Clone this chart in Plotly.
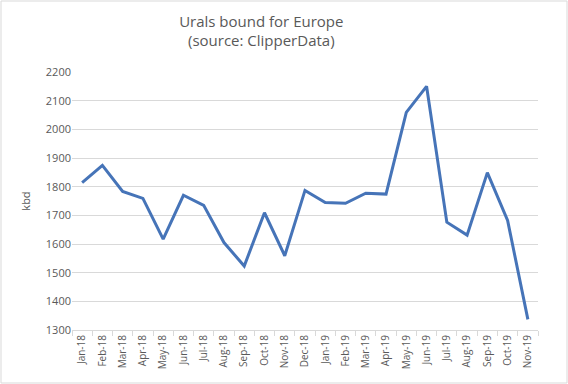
import plotly.graph_objects as go

months = ["Jan-18", "Feb-18", "Mar-18", "Apr-18", "May-18", "Jun-18", "Jul-18", "Aug-18",
          "Sep-18", "Oct-18", "Nov-18", "Dec-18", "Jan-19", "Feb-19", "Mar-19", "Apr-19",
          "May-19", "Jun-19", "Jul-19", "Aug-19", "Sep-19", "Oct-19", "Nov-19"]
kbd = [1814, 1874, 1783, 1759, 1617, 1770, 1735, 1605, 1523, 1709, 1559, 1787,
       1745, 1742, 1777, 1774, 2059, 2150, 1676, 1631, 1849, 1682, 1337]

W, H = 568, 384
ml, mr, mt, mb = 72, 30, 72, 54

fig = go.Figure(go.Scatter(x=months, y=kbd, mode="lines",
                           line=dict(color="#4674B8", width=3)))

pw = W - ml - mr
ph = H - mt - mb
fig.add_shape(type="rect", xref="paper", yref="paper",
              x0=-(ml - 1) / pw, x1=1 + (mr - 1) / pw,
              y0=-(mb - 1) / ph, y1=1 + (mt - 1) / ph,
              line=dict(color="#D9D9D9", width=1), layer="below")

fig.update_layout(
    width=W, height=H,
    margin=dict(l=ml, r=mr, t=mt, b=mb),
    paper_bgcolor="white", plot_bgcolor="white",
    font=dict(family="Open Sans", color="#595959"),
    title=dict(text="Urals bound for Europe<br>(source: ClipperData)",
               x=0.46, xref="container", xanchor="center",
               y=0.93, yref="container", yanchor="top",
               font=dict(size=15, color="#595959")),
    showlegend=False,
    xaxis=dict(type="category", tickangle=-90, tickfont=dict(size=10),
               range=[-0.5, len(months) - 0.5],
               showgrid=False, showline=True, linecolor="#D9D9D9",
               ticks="outside", tickson="boundaries", ticklen=5, tickcolor="#D9D9D9"),
    yaxis=dict(range=[1300, 2200], dtick=100, tickfont=dict(size=11),
               showgrid=True, gridcolor="#D9D9D9", zeroline=False,
               title=dict(text="kbd", font=dict(size=11), standoff=12),
               showline=False),
)

fig.write_html("out.html", config={"displayModeBar": False},
               post_script="document.body.style.margin='0';document.body.style.padding='0';")
